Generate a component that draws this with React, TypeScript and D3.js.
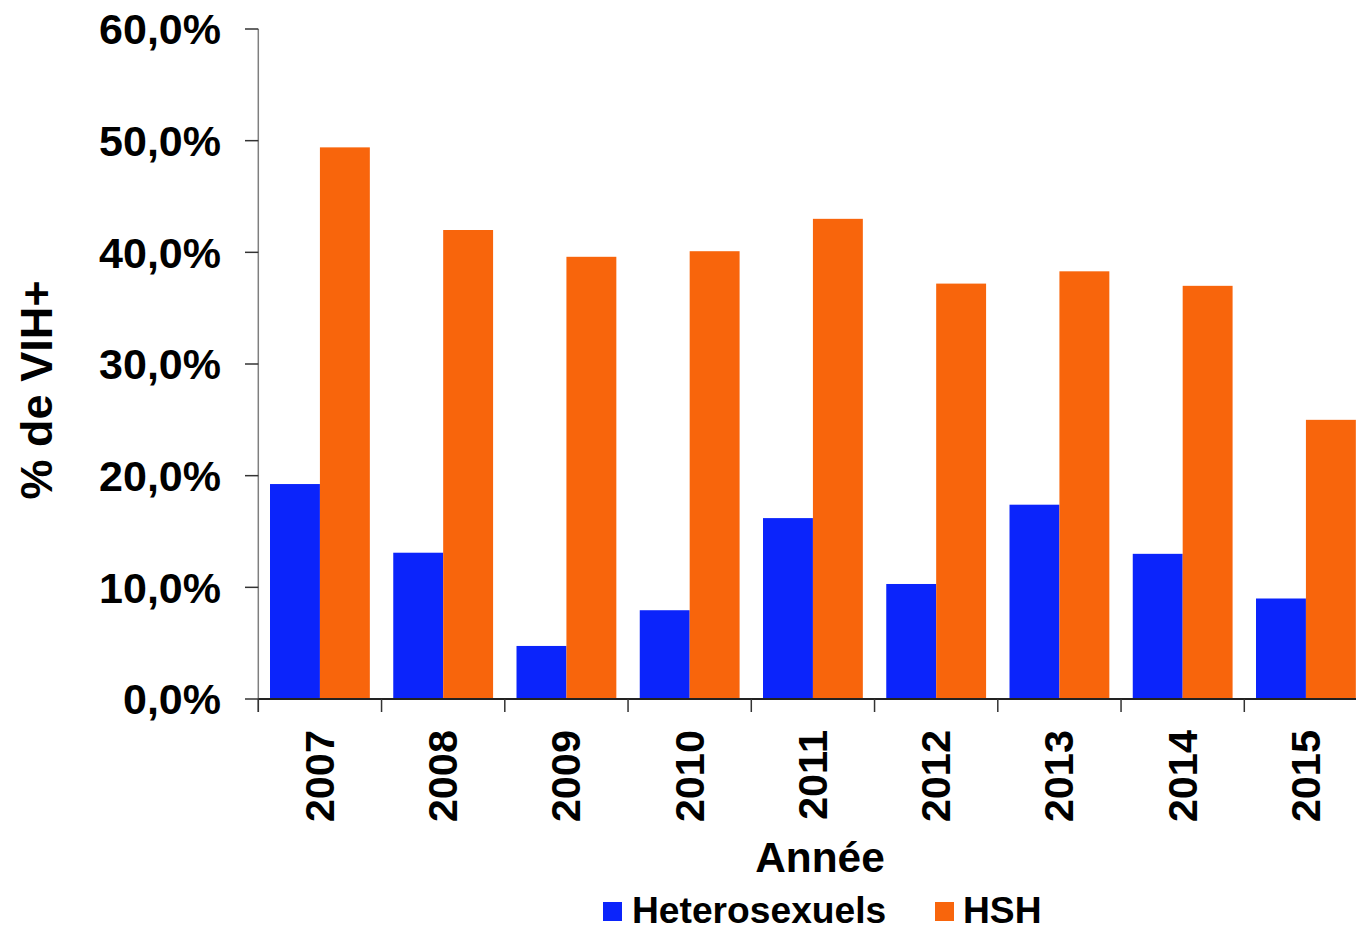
import React from "react";
import * as d3 from "d3";

const years = ["2007", "2008", "2009", "2010", "2011", "2012", "2013", "2014", "2015"];
const hetero = [19.25, 13.1, 4.75, 7.95, 16.2, 10.3, 17.4, 13.0, 9.0];
const hsh = [49.4, 42.0, 39.6, 40.1, 43.0, 37.2, 38.3, 37.0, 25.0];
const yTicks = [0, 10, 20, 30, 40, 50, 60];
const seriesNames = ["Heterosexuels", "HSH"];
const colors = ["#0B24FB", "#F8650C"];

export default function App() {
  const W = 1356, H = 928;
  const left = 258.3, top = 29, bottom = 699;
  const band = 123.25;
  const x = d3.scaleBand<string>().domain(years).range([left, left + band * years.length]).paddingInner(0.19).paddingOuter(0.095);
  const y = d3.scaleLinear().domain([0, 60]).range([bottom, top]);
  const inner = d3.scaleBand<string>().domain(seriesNames).range([0, x.bandwidth()]);
  const font = "'Liberation Sans', Arial, Helvetica, sans-serif";
  const fmt = (v: number) => v.toFixed(1).replace(".", ",") + "%";
  const series = [hetero, hsh];
  return (
    <svg width={W} height={H} style={{ position: "absolute", left: 0, top: 0, background: "#fff" }} fontFamily={font} fontWeight="bold">
      {years.map((yr, i) =>
        series.map((s, j) => (
          <rect key={yr + j} x={(x(yr) as number) + (inner(seriesNames[j]) as number)} y={y(s[i])} width={inner.bandwidth()} height={bottom - y(s[i])} fill={colors[j]} />
        ))
      )}
      {/* y axis */}
      <line x1={left} x2={left} y1={top} y2={712} stroke="#7f7f7f" strokeWidth={1.5} />
      {yTicks.map((t) => (
        <g key={t}>
          <line x1={245} x2={left} y1={y(t)} y2={y(t)} stroke="#333" strokeWidth={1.5} />
          <text x={221} y={y(t)} dy="0.36em" textAnchor="end" fontSize={43} fill="#000">{fmt(t)}</text>
        </g>
      ))}
      {/* x axis */}
      <line x1={left} x2={W} y1={bottom} y2={bottom} stroke="#222" strokeWidth={2} />
      {years.map((yr, i) => (
        <line key={"t" + yr} x1={left + i * band} x2={left + i * band} y1={bottom} y2={712} stroke="#333" strokeWidth={1.5} />
      ))}
      {years.map((yr) => {
        const cx = (x(yr) as number) + x.bandwidth() / 2 - 1;
        return (
          <text key={"l" + yr} transform={`translate(${cx},730) rotate(-90)`} dy="0.36em" textAnchor="end" fontSize={41.5} fill="#000">{yr}</text>
        );
      })}
      <text x={820} y={872} textAnchor="middle" fontSize={42.4} fill="#000">Année</text>
      <text transform="translate(36,390) rotate(-90)" dy="0.36em" textAnchor="middle" fontSize={45} fill="#000">% de VIH+</text>
      {/* legend */}
      <rect x={603} y={902} width={19} height={19} fill={colors[0]} />
      <text x={632} y={923} fontSize={37.2} fill="#000">{seriesNames[0]}</text>
      <rect x={935} y={902} width={19} height={19} fill={colors[1]} />
      <text x={963} y={923} fontSize={37.2} fill="#000">{seriesNames[1]}</text>
    </svg>
  );
}
